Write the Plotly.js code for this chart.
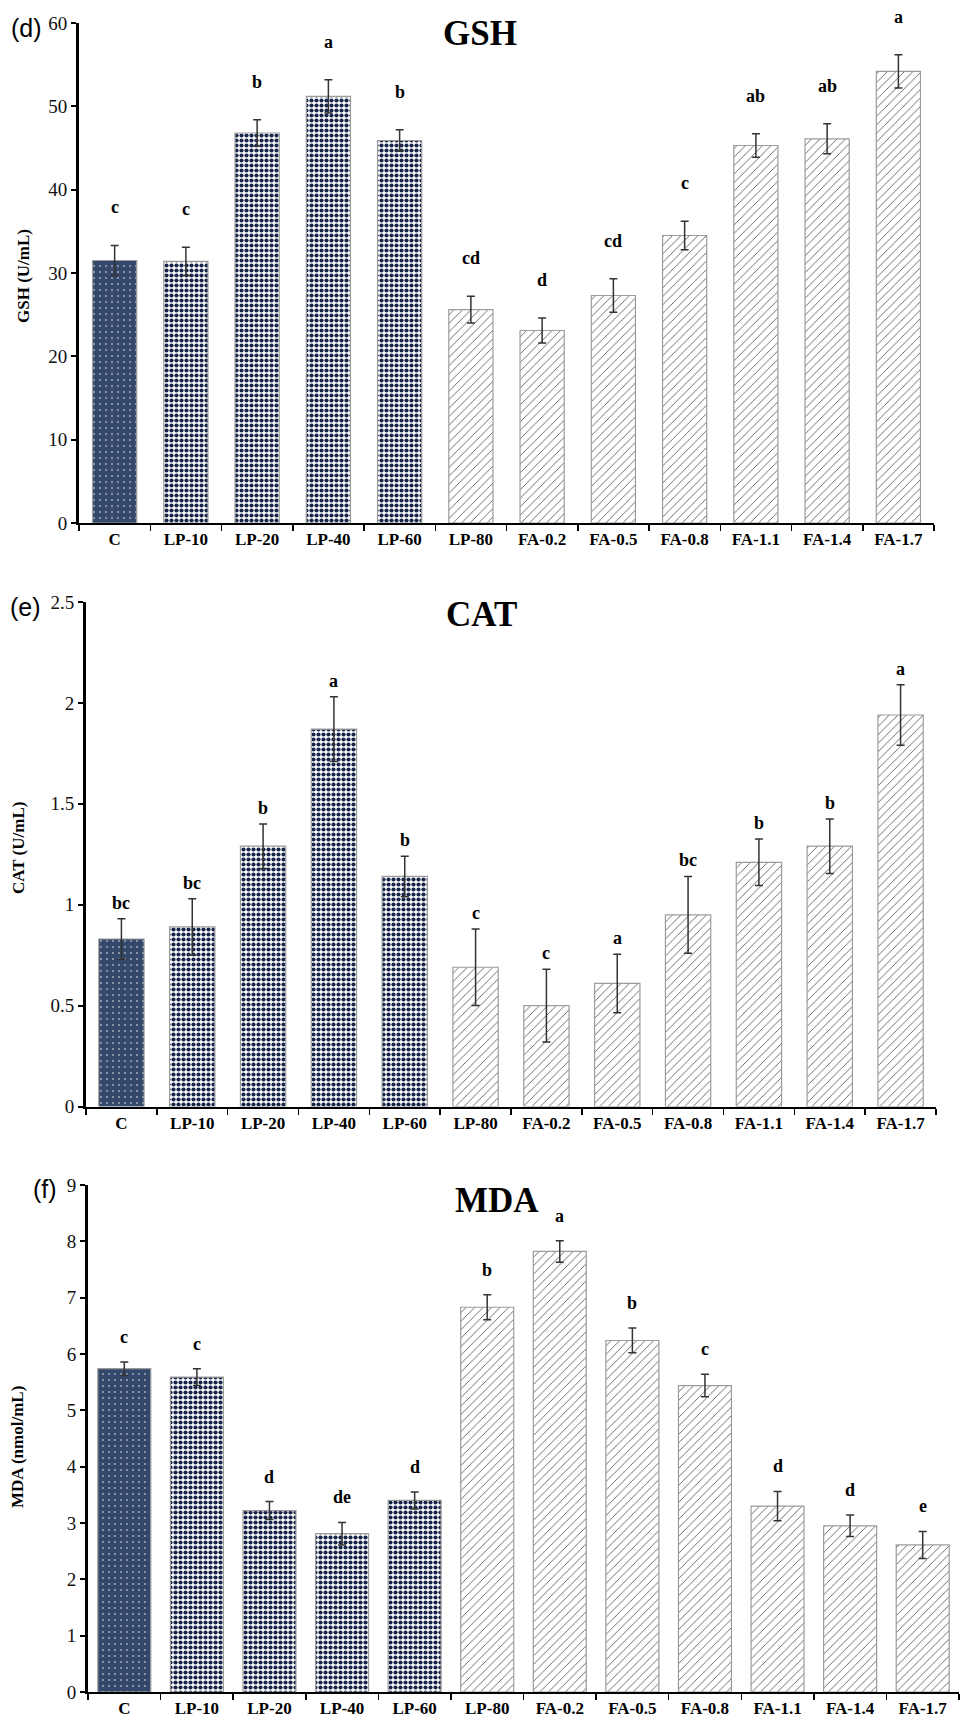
<!DOCTYPE html>
<html>
<head>
<meta charset="utf-8">
<script src="https://cdn.plot.ly/plotly-3.0.1.min.js"></script>
<style>
  html, body { margin: 0; padding: 0; background: #fff; }
  #chart { width: 967px; height: 1727px; }
</style>
</head>
<body>
<div id="chart"></div>
<script>
// ---------------- data ----------------
const categories = ['C', 'LP-10', 'LP-20', 'LP-40', 'LP-60', 'LP-80', 'FA-0.2', 'FA-0.5', 'FA-0.8', 'FA-1.1', 'FA-1.4', 'FA-1.7'];

const gshMean    = [31.5, 31.4, 46.8, 51.2, 45.9, 25.6, 23.1, 27.3, 34.5, 45.3, 46.1, 54.2];
const gshErr     = [1.8, 1.7, 1.6, 2.0, 1.3, 1.6, 1.5, 2.0, 1.7, 1.4, 1.8, 2.0];
const gshLetters = ['c', 'c', 'b', 'a', 'b', 'cd', 'd', 'cd', 'c', 'ab', 'ab', 'a'];

const catMean    = [0.83, 0.89, 1.29, 1.87, 1.14, 0.69, 0.50, 0.61, 0.95, 1.21, 1.29, 1.94];
const catErr     = [0.10, 0.14, 0.11, 0.16, 0.10, 0.19, 0.18, 0.145, 0.19, 0.115, 0.135, 0.15];
const catLetters = ['bc', 'bc', 'b', 'a', 'b', 'c', 'c', 'a', 'bc', 'b', 'b', 'a'];

const mdaMean    = [5.74, 5.59, 3.22, 2.81, 3.40, 6.83, 7.82, 6.24, 5.44, 3.30, 2.95, 2.61];
const mdaErr     = [0.12, 0.15, 0.16, 0.20, 0.15, 0.22, 0.19, 0.22, 0.20, 0.26, 0.19, 0.24];
const mdaLetters = ['c', 'c', 'd', 'de', 'd', 'b', 'a', 'b', 'c', 'd', 'd', 'e'];

// ---------------- styles ----------------
const patternGroup = ['dot', 'check', 'check', 'check', 'check', 'zig', 'zig', 'zig', 'zig', 'zig', 'zig', 'zig'];
const STY = {
  dot:   { shape: '.', bg: '#33486b', fg: '#ffffff', size: 6, solidity: 0.05 },
  check: { shape: '.', bg: '#ffffff', fg: '#18254a', size: 5, solidity: 0.55 },
  zig:   { shape: '/', bg: '#ffffff', fg: '#5e5e5e', size: 6, solidity: 0.15 }
};
const SERIF = 'Liberation Serif, Times New Roman, serif';
const W = 967, H = 1727;

const panels = [
  { mean: gshMean, err: gshErr, letters: gshLetters, title: 'GSH', tag: '(d)', ytitle: 'GSH (U/mL)',
    range: [0, 60], dtick: 10, x: [79, 934], y: [23, 523], gap: 0.38, lshift: 38,
    titlePos: [480, 34], tagPos: [26, 28], ytitlePos: [24, 276] },
  { mean: catMean, err: catErr, letters: catLetters, title: 'CAT', tag: '(e)', ytitle: 'CAT (U/mL)',
    range: [0, 2.5], dtick: 0.5, x: [86, 936], y: [602, 1106.5], gap: 0.36, lshift: 16,
    titlePos: [481, 615], tagPos: [25, 607], ytitlePos: [18, 848] },
  { mean: mdaMean, err: mdaErr, letters: mdaLetters, title: 'MDA', tag: '(f)', ytitle: 'MDA (nmol/mL)',
    range: [0, 9], dtick: 1, x: [88, 959], y: [1185, 1692], gap: 0.27, lshift: 25,
    titlePos: [497, 1200], tagPos: [45, 1189], ytitlePos: [17, 1447] }
];

const traces = [];
const layout = {
  width: W, height: H,
  margin: { l: 0, r: 0, t: 0, b: 0, pad: 0 },
  paper_bgcolor: '#ffffff', plot_bgcolor: 'rgba(0,0,0,0)',
  showlegend: false,
  annotations: []
};

panels.forEach((p, k) => {
  const n = k === 0 ? '' : String(k + 1);
  const xa = 'x' + n, ya = 'y' + n;
  traces.push({
    type: 'bar',
    name: p.title,
    x: categories,
    y: p.mean,
    xaxis: xa, yaxis: ya,
    width: 1 - p.gap,
    marker: {
      color: '#ffffff',
      line: { color: '#9c9c9c', width: 1.2 },
      pattern: {
        fillmode: 'replace',
        shape: patternGroup.map(g => STY[g].shape),
        bgcolor: patternGroup.map(g => STY[g].bg),
        fgcolor: patternGroup.map(g => STY[g].fg),
        size: patternGroup.map(g => STY[g].size),
        solidity: patternGroup.map(g => STY[g].solidity)
      }
    },
    error_y: { type: 'data', array: p.err, visible: true, color: '#333333', thickness: 1.5, width: 4 },
    hoverinfo: 'x+y'
  });

  layout['xaxis' + n] = {
    domain: [p.x[0] / W, p.x[1] / W],
    anchor: ya,
    type: 'category',
    range: [-0.5, categories.length - 0.5],
    showline: true, linecolor: '#000', linewidth: 2,
    ticks: 'outside', tickson: 'boundaries', ticklen: 6, tickwidth: 1.5, tickcolor: '#000',
    showgrid: false, zeroline: false,
    tickfont: { family: SERIF, size: 17, color: '#000', weight: 'bold' }
  };
  layout['yaxis' + n] = {
    domain: [1 - p.y[1] / H, 1 - p.y[0] / H],
    anchor: xa,
    range: p.range, dtick: p.dtick,
    showline: true, linecolor: '#000', linewidth: 3,
    ticks: 'outside', ticklen: 5, tickwidth: 2, tickcolor: '#000',
    showgrid: false, zeroline: false,
    tickfont: { family: SERIF, size: 19, color: '#111' }
  };

  // y-axis title
  layout.annotations.push({
    text: p.ytitle, xref: 'paper', yref: 'paper', textangle: -90,
    x: p.ytitlePos[0] / W, y: 1 - p.ytitlePos[1] / H, xanchor: 'center', yanchor: 'middle',
    showarrow: false, font: { family: SERIF, size: 17, color: '#000', weight: 'bold' }
  });
  // panel title
  layout.annotations.push({
    text: p.title, xref: 'paper', yref: 'paper',
    x: p.titlePos[0] / W, y: 1 - p.titlePos[1] / H, xanchor: 'center', yanchor: 'middle',
    showarrow: false, font: { family: SERIF, size: 35, color: '#000', weight: 'bold' }
  });
  // panel tag
  layout.annotations.push({
    text: p.tag, xref: 'paper', yref: 'paper',
    x: p.tagPos[0] / W, y: 1 - p.tagPos[1] / H, xanchor: 'center', yanchor: 'middle',
    showarrow: false, font: { family: 'Liberation Sans, Arial, sans-serif', size: 25, color: '#000' }
  });
  // significance letters
  categories.forEach((c, i) => {
    layout.annotations.push({
      text: p.letters[i], xref: xa, yref: ya,
      x: c, y: p.mean[i] + p.err[i], xanchor: 'center', yanchor: 'middle', yshift: p.lshift,
      showarrow: false, font: { family: SERIF, size: 18, color: '#000', weight: 'bold' }
    });
  });
});

Plotly.newPlot('chart', traces, layout, { staticPlot: true, displayModeBar: false });
</script>
</body>
</html>
